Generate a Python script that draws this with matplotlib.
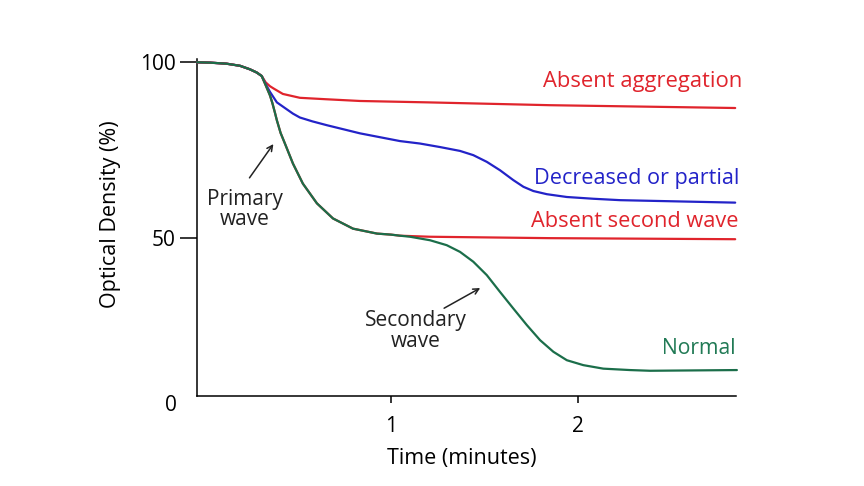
import matplotlib
matplotlib.use("Agg")
import matplotlib.pyplot as plt
import numpy as np

plt.rcParams['font.family'] = ['Open Sans', 'DejaVu Sans']

# ---------------------------------------------------------------------------
# data (time in minutes, optical density in %)
# ---------------------------------------------------------------------------

# shared lag phase of all four traces
t_start = [-0.037, 0.032, 0.121, 0.193, 0.246, 0.282, 0.309]
od_start = [100.0, 99.9, 99.6, 99.0, 98.0, 97.1, 96.1]

# absent aggregation
t_absent = [0.330, 0.353, 0.374, 0.422, 0.513, 0.650, 0.834, 1.200, 1.850,
            2.840]
od_absent = [94.3, 93.2, 92.5, 91.0, 89.9, 89.5, 89.0, 88.6, 87.8, 87.0]

# decreased or partial
t_partial = [0.330, 0.353, 0.390, 0.433, 0.476, 0.513, 0.580, 0.658, 0.750,
             0.834, 0.941, 1.048, 1.155, 1.262, 1.369, 1.440, 1.512, 1.583,
             1.654, 1.708, 1.761, 1.833, 1.940, 2.082, 2.225, 2.840]
od_partial = [93.8, 91.6, 88.6, 87.0, 85.4, 84.3, 83.2, 82.1, 80.9,
              79.8, 78.7, 77.6, 76.9, 75.9, 74.8, 73.6, 71.7, 69.3,
              66.5, 64.6, 63.4, 62.5, 61.7, 61.2, 60.8, 60.1]

# primary wave, shared by normal and absent second wave
t_primary = [0.330, 0.353, 0.366, 0.380, 0.390, 0.410, 0.433, 0.476, 0.529,
             0.604, 0.690, 0.797, 0.925, 1.001, 1.048]
od_primary = [93.5, 90.6, 88.4, 85.6, 83.5, 79.9, 76.9, 71.2, 65.5,
              59.9, 55.6, 52.7, 51.3, 51.0, 50.7]

# absent second wave
t_nosecond = [1.209, 1.850, 2.840]
od_nosecond = [50.4, 50.0, 49.7]

# normal (secondary wave)
t_normal = [1.102, 1.209, 1.298, 1.369, 1.440, 1.512, 1.583, 1.654, 1.726,
            1.797, 1.868, 1.940, 2.028, 2.135, 2.278, 2.385, 2.849]
od_normal = [50.4, 49.4, 48.0, 46.1, 43.3, 39.5, 34.7, 30.0, 25.3,
             21.0, 17.7, 15.3, 13.9, 12.9, 12.5, 12.3, 12.5]

RED = "#e0242c"
BLUE = "#2323c8"
GREEN = "#1b6e4a"
GREEN_TXT = "#217a55"
INK = "#222222"


def curve(*parts):
    t = np.concatenate([p[0] for p in parts])
    v = np.concatenate([p[1] for p in parts])
    return t, v


fig = plt.figure(figsize=(8.64, 4.86), dpi=100)
ax = fig.add_axes([0.228, 0.185, 0.624, 0.693])

start = (t_start, od_start)
prim = (t_primary, od_primary)

lw = 1.6
kw = dict(lw=lw, clip_on=False, solid_joinstyle="round",
          solid_capstyle="round")
ax.plot(*curve(start, (t_absent, od_absent)), color=RED, zorder=3, **kw)
ax.plot(*curve(start, (t_partial, od_partial)), color=BLUE, zorder=3, **kw)
ax.plot(*curve(start, prim, (t_nosecond, od_nosecond)), color=RED,
        zorder=3, **kw)
ax.plot(*curve(start, prim, (t_normal, od_normal)), color=GREEN,
        zorder=4, **kw)

ax.set_xlim(-0.037, 2.845)
ax.set_ylim(5.1, 100.85)

for s in ["top", "right"]:
    ax.spines[s].set_visible(False)
for s in ["left", "bottom"]:
    ax.spines[s].set_linewidth(1.1)

ax.set_xticks([1, 2])
ax.set_yticks([50, 100])
ax.tick_params(axis="y", length=12, width=1.1, pad=3.5, labelsize=15)
ax.tick_params(axis="x", length=5, width=1.1, pad=9, labelsize=15)

# the "0" sits just under the x axis without a tick
ax.text(-0.144, 2.56, "0", ha="right", va="center", fontsize=15,
        clip_on=False)

ax.text(-0.161, 0.54, "Optical Density (%)", transform=ax.transAxes,
        rotation=90, ha="center", va="center", fontsize=15.5)
ax.text(0.492, -0.184, "Time (minutes)", transform=ax.transAxes,
        ha="center", va="center", fontsize=15.5)

# curve labels, right aligned
ax.text(2.877, 94.4, "Absent aggregation", color=RED, ha="right",
        va="center", fontsize=15.8)
ax.text(2.86, 67.0, "Decreased or partial", color=BLUE, ha="right",
        va="center", fontsize=15.6)
ax.text(2.86, 54.6, "Absent second wave", color=RED, ha="right",
        va="center", fontsize=15.7)
ax.text(2.84, 18.75, "Normal", color=GREEN_TXT, ha="right",
        va="center", fontsize=15.2)

# wave annotations
arrow = dict(arrowstyle="->", color=INK, lw=1.1)
ax.annotate("", xy=(0.380, 77.4), xytext=(0.235, 66.5), arrowprops=arrow)
ax.text(0.219, 58.2, "Primary\nwave", ha="center", va="center",
        fontsize=15, linespacing=0.95, color=INK)
ax.annotate("", xy=(1.490, 36.2), xytext=(1.271, 29.7), arrowprops=arrow)
ax.text(1.134, 23.6, "Secondary\nwave", ha="center", va="center",
        fontsize=15, linespacing=0.95, color=INK)

fig.savefig("out.png", dpi=100)
